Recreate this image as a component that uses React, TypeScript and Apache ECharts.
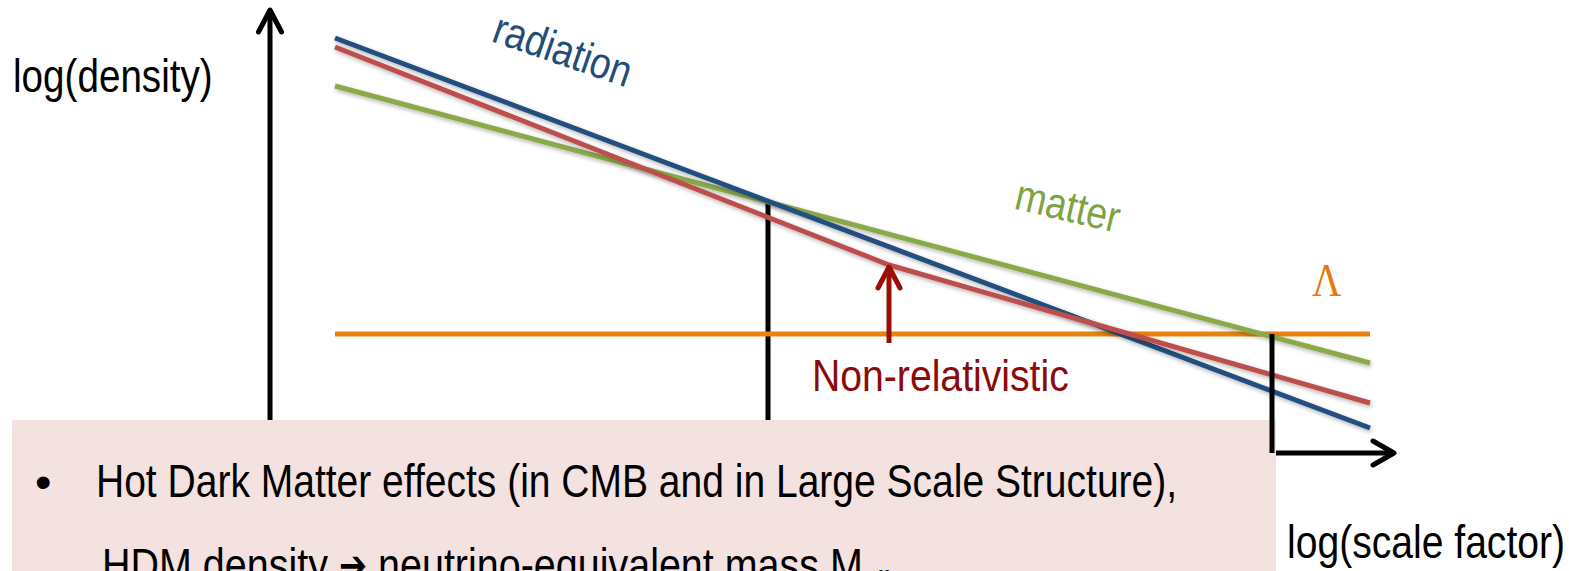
import React, { useEffect, useRef } from "react";
import * as echarts from "echarts";

// Schematic data in (log scale factor, log density) units
const radiation = [[0.65, 4.15], [11.0, 0.25]];
const matter = [[0.65, 3.67], [11.0, 0.9]];
const hotDarkMatter = [[0.65, 4.06], [6.19, 1.88], [11.0, 0.5]];
const lambdaLine = [[0.65, 1.19], [11.0, 1.19]];
const transitionEarly = [[4.98, 2.51], [4.98, 0]];
const transitionLate = [[10.02, 1.19], [10.02, 0]];
const yAxisArrow = [[0, 0, 0, 4.45]];
const xAxisArrow = [[0, 0, 11.26, 0]];
const nonRelArrow = [[6.19, 1.1, 6.19, 1.88]];

const shadow = {
  shadowColor: "rgba(0,0,0,0.3)",
  shadowBlur: 4,
  shadowOffsetX: 1,
  shadowOffsetY: 2,
};

function lineSeries(name: string, data: number[][], color: string, width: number, z = 2, withShadow = true) {
  return {
    name,
    type: "line",
    data,
    symbol: "none",
    clip: false,
    z,
    lineStyle: withShadow ? { color, width, ...shadow } : { color, width },
  };
}

function arrowSeries(name: string, data: number[][], color: string, width: number, headLen: number, headHalf: number, z = 3) {
  return {
    name,
    type: "custom",
    z,
    clip: false,
    data,
    renderItem: (params: any, api: any) => {
      const p0 = api.coord([api.value(0), api.value(1)]);
      const p1 = api.coord([api.value(2), api.value(3)]);
      const dx = p1[0] - p0[0];
      const dy = p1[1] - p0[1];
      const len = Math.hypot(dx, dy) || 1;
      const ux = dx / len;
      const uy = dy / len;
      const tipX = p1[0] - ux * 2;
      const tipY = p1[1] - uy * 2;
      const bx = tipX - ux * headLen;
      const by = tipY - uy * headLen;
      return {
        type: "group",
        children: [
          {
            type: "line",
            shape: { x1: p0[0], y1: p0[1], x2: tipX, y2: tipY },
            style: { stroke: color, lineWidth: width },
          },
          {
            type: "polyline",
            shape: {
              points: [
                [bx - uy * headHalf, by + ux * headHalf],
                [tipX, tipY],
                [bx + uy * headHalf, by - ux * headHalf],
              ],
            },
            style: { stroke: color, fill: null, lineWidth: width, lineJoin: "round", lineCap: "round" },
          },
        ],
      };
    },
  };
}

const sans = "'Liberation Sans', Arial, Helvetica, sans-serif";

export default function App() {
  const ref = useRef<HTMLDivElement>(null);
  useEffect(() => {
    document.body.style.margin = "0";
    if (!ref.current) return;
    const chart = echarts.init(ref.current, undefined, { renderer: "svg" });
    chart.setOption({
      animation: false,
      backgroundColor: "#ffffff",
      grid: { left: 270, top: 8, width: 1126, height: 445 },
      xAxis: { type: "value", min: 0, max: 11.26, show: false },
      yAxis: { type: "value", min: 0, max: 4.45, show: false },
      series: [
        arrowSeries("yAxis", yAxisArrow, "#000000", 5, 22, 11.5, 3),
        arrowSeries("xAxis", xAxisArrow, "#000000", 5, 21, 12, 3),
        lineSeries("transition1", transitionEarly, "#000000", 5, 2, false),
        lineSeries("Λ", lambdaLine, "#e8820c", 5, 4, false),
        lineSeries("matter", matter, "#8aaa48", 5, 5),
        lineSeries("radiation", radiation, "#22507f", 5, 6),
        lineSeries("HDM", hotDarkMatter, "#bc4f4b", 5, 7),
        arrowSeries("nonrel", nonRelArrow, "#9a0e06", 5, 21, 11, 8),
        lineSeries("transition2", transitionLate, "#000000", 5, 20, false),
      ],
      graphic: [
        {
          type: "rect",
          z: 10,
          shape: { x: 12, y: 420, width: 1264, height: 160 },
          style: { fill: "#f4e2e1" },
        },
        {
          type: "text",
          z: 11,
          x: 35,
          y: 481,
          style: { text: "•", font: `47px ${sans}`, fill: "#000", verticalAlign: "middle", align: "left" },
        },
        {
          type: "text",
          z: 11,
          x: 96,
          y: 481,
          scaleX: 0.83,
          style: {
            text: "Hot Dark Matter effects (in CMB and in Large Scale Structure),",
            font: `47px ${sans}`,
            fill: "#000",
            verticalAlign: "middle",
            align: "left",
          },
        },
        {
          type: "text",
          z: 11,
          x: 102,
          y: 565,
          scaleX: 0.84,
          style: {
            text: "HDM density {arr|\u2794} neutrino-equivalent mass M{sub|eff}",
            font: `47px ${sans}`,
            fill: "#000",
            verticalAlign: "middle",
            align: "left",
            rich: {
              arr: { fontSize: 40, fontFamily: "'DejaVu Sans', sans-serif", fill: "#000" },
              sub: { fontSize: 28, fontFamily: sans, fill: "#000", padding: [30, 0, 0, 0] },
            },
          },
        },
        {
          type: "text",
          z: 11,
          x: 13,
          y: 76,
          scaleX: 0.84,
          style: { text: "log(density)", font: `46px ${sans}`, fill: "#000", verticalAlign: "middle", align: "left" },
        },
        {
          type: "text",
          z: 11,
          x: 1287,
          y: 542,
          scaleX: 0.85,
          style: { text: "log(scale factor)", font: `46px ${sans}`, fill: "#000", verticalAlign: "middle", align: "left" },
        },
        {
          type: "text",
          z: 11,
          x: 812,
          y: 376,
          scaleX: 0.89,
          style: { text: "Non-relativistic", font: `44px ${sans}`, fill: "#8b0a0a", verticalAlign: "middle", align: "left" },
        },
        {
          type: "text",
          z: 11,
          x: 563,
          y: 50,
          rotation: -0.33,
          scaleX: 0.85,
          style: { text: "radiation", font: `44px ${sans}`, fill: "#1f4e79", verticalAlign: "middle", align: "center" },
        },
        {
          type: "text",
          z: 11,
          x: 1068,
          y: 206,
          rotation: -0.23,
          scaleX: 0.85,
          style: { text: "matter", font: `44px ${sans}`, fill: "#7ea341", verticalAlign: "middle", align: "center" },
        },
        {
          type: "text",
          z: 11,
          x: 1312,
          y: 280,
          scaleX: 0.88,
          style: { text: "Λ", font: `46px 'Liberation Serif', 'Times New Roman', serif`, fill: "#e8780c", verticalAlign: "middle", align: "left" },
        },
      ],
    });
    return () => chart.dispose();
  }, []);
  return <div ref={ref} style={{ width: 1569, height: 571 }} />;
}
